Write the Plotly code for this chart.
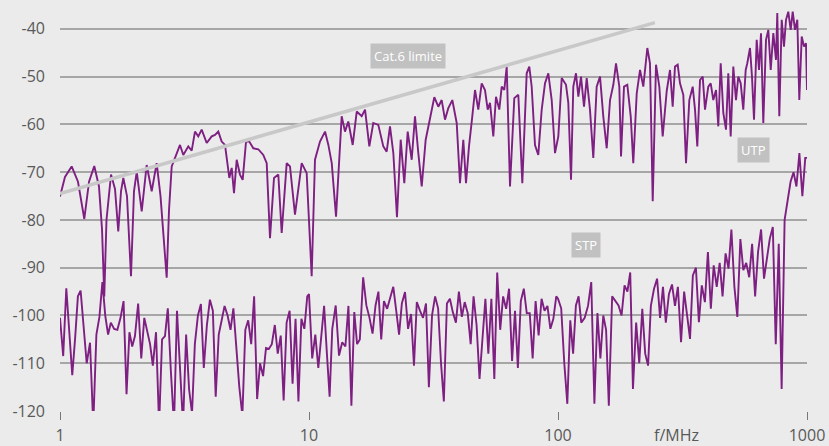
import numpy as np
import plotly.graph_objects as go

# ---- UTP series: (frequency MHz, level dB) ----
utp = [
    (1.000, -75.1), (1.047, -71.0), (1.114, -68.8), (1.181, -72.0), (1.252, -79.8), (1.308, -72.0),
    (1.373, -68.7), (1.434, -73.0), (1.475, -82.0), (1.506, -96.0), (1.537, -80.0), (1.603, -70.5),
    (1.663, -73.5), (1.714, -82.4), (1.758, -74.0), (1.796, -71.2), (1.858, -75.0), (1.928, -91.8),
    (1.982, -74.0), (2.033, -69.9), (2.129, -78.2), (2.229, -68.5), (2.335, -74.0), (2.445, -68.1),
    (2.533, -75.0), (2.599, -83.7), (2.682, -92.1), (2.740, -78.0), (2.809, -68.8), (2.923, -66.5),
    (3.033, -64.3), (3.127, -66.4), (3.275, -64.6), (3.380, -65.5), (3.484, -61.5), (3.592, -62.5),
    (3.707, -61.1), (3.883, -63.9), (4.067, -62.5), (4.193, -62.2), (4.322, -61.5), (4.460, -63.6),
    (4.599, -64.3), (4.786, -71.2), (4.893, -69.1), (4.998, -74.4), (5.124, -67.4), (5.283, -70.5),
    (5.416, -71.6), (5.585, -63.6), (5.758, -63.6), (5.975, -65.0), (6.257, -65.2), (6.553, -66.4),
    (6.763, -68.1), (6.972, -83.8), (7.235, -71.2), (7.529, -70.5), (7.768, -82.7), (8.136, -68.1),
    (8.388, -68.8), (8.785, -78.9), (9.347, -68.1), (9.789, -70.2), (10.09, -86.2), (10.25, -91.8),
    (10.57, -67.4), (11.07, -63.6), (11.60, -61.5), (11.96, -64.3), (12.34, -68.1), (12.84, -79.3),
    (13.53, -58.3), (13.95, -61.5), (14.38, -59.4), (14.98, -64.3), (15.55, -57.3), (16.28, -58.3),
    (16.79, -56.9), (17.47, -64.6), (18.12, -59.7), (18.98, -60.1), (19.88, -64.6), (20.51, -65.7),
    (21.15, -60.4), (21.81, -66.0), (22.56, -79.4), (23.35, -63.2), (24.14, -72.3), (24.91, -61.5),
    (25.85, -67.4), (26.65, -58.3), (27.48, -66.0), (28.36, -73.0), (29.42, -63.2), (30.62, -59.0),
    (31.86, -54.3), (33.06, -56.3), (34.11, -54.9), (35.17, -59.0), (36.26, -56.6), (37.63, -54.9),
    (39.19, -59.7), (40.40, -72.3), (41.66, -63.2), (42.71, -72.3), (43.91, -64.6), (45.27, -58.3),
    (46.42, -52.8), (47.86, -56.9), (49.38, -51.4), (50.91, -52.8), (52.20, -56.9), (53.33, -55.5),
    (54.98, -62.5), (56.36, -54.2), (58.11, -56.9), (59.42, -52.1), (60.86, -52.8), (62.23, -47.9),
    (64.16, -73.0), (66.76, -54.5), (69.28, -53.8), (71.89, -72.3), (74.87, -49.3), (76.68, -47.9),
    (78.40, -52.1), (80.83, -64.3), (83.34, -66.4), (86.01, -56.9), (88.68, -51.4), (91.43, -49.3),
    (94.34, -54.9), (97.26, -66.0), (100.3, -62.5), (103.5, -50.3), (107.7, -51.7), (110.0, -55.5),
    (112.8, -71.6), (115.2, -52.1), (118.1, -49.3), (120.7, -54.2), (123.7, -50.0), (127.2, -56.3),
    (130.4, -50.3), (134.4, -56.9), (138.6, -67.0), (143.0, -52.1), (147.5, -50.0), (152.0, -58.3),
    (156.9, -65.0), (161.8, -54.9), (166.8, -51.7), (171.0, -47.2), (176.3, -52.1), (179.1, -66.7),
    (184.1, -52.1), (189.8, -51.7), (195.9, -58.3), (200.6, -68.1), (207.1, -53.5), (213.5, -48.6),
    (220.1, -52.1), (228.4, -44.0), (234.1, -47.2), (240.1, -76.1), (247.5, -47.5), (255.2, -52.1),
    (263.3, -62.5), (273.3, -53.0), (281.7, -48.6), (288.8, -56.3), (295.0, -47.9), (302.5, -47.5),
    (309.0, -51.4), (318.6, -53.8), (326.7, -68.1), (336.8, -54.9), (347.5, -52.1), (355.0, -56.9),
    (362.6, -64.6), (371.8, -50.7), (381.2, -50.0), (389.4, -56.9), (401.4, -52.1), (410.5, -51.4),
    (420.4, -54.9), (431.1, -52.8), (440.3, -60.4), (450.2, -47.2), (461.2, -57.6), (472.8, -61.1),
    (483.0, -49.3), (493.8, -62.5), (505.9, -47.9), (518.6, -54.9), (529.8, -50.0), (541.7, -51.4),
    (554.8, -56.9), (567.3, -48.6), (575.7, -47.2), (590.3, -44.0), (601.3, -50.0), (612.6, -59.0),
    (628.0, -42.3), (641.6, -48.6), (653.5, -40.9), (667.6, -59.7), (684.5, -42.3), (699.3, -40.2),
    (715.0, -48.6), (732.3, -40.9), (750.7, -46.5), (759.8, -36.7), (774.0, -58.3), (791.4, -38.1),
    (808.3, -43.7), (823.5, -38.1), (841.2, -36.4), (860.1, -40.2), (876.1, -36.4), (894.9, -40.2),
    (914.3, -38.1), (931.3, -54.9), (952.2, -41.6), (972.6, -43.7), (990.8, -43.0), (1000.0, -52.8),
]
utp_freq = [p[0] for p in utp]
utp_db = [p[1] for p in utp]

# ---- STP series ----
stp_freq = [
    1.00, 1.03, 1.06, 1.09, 1.12, 1.15, 1.18, 1.21, 1.24, 1.28,
    1.32, 1.36, 1.40, 1.44, 1.48, 1.52, 1.56, 1.60, 1.65, 1.70,
    1.75, 1.80, 1.85, 1.90, 1.95, 2.00, 2.06, 2.12, 2.18, 2.24,
    2.30, 2.36, 2.43, 2.50, 2.57, 2.64, 2.71, 2.79, 2.87, 2.95,
    3.03, 3.12, 3.21, 3.30, 3.39, 3.48, 3.58, 3.68, 3.78, 3.89,
    4.00, 4.11, 4.22, 4.34, 4.46, 4.58, 4.71, 4.84, 4.97, 5.11,
    5.25, 5.40, 5.55, 5.70, 5.86, 6.02, 6.19, 6.36, 6.54, 6.72,
    6.90, 7.09, 7.29, 7.49, 7.70, 7.91, 8.13, 8.36, 8.59, 8.83,
    9.07, 9.32, 9.58, 9.84,
    10.0, 10.3, 10.6, 10.9, 11.2, 11.5, 11.8, 12.1, 12.4, 12.8,
    13.2, 13.6, 14.0, 14.4, 14.8, 15.2, 15.6, 16.0, 16.5, 17.0,
    17.5, 18.0, 18.5, 19.0, 19.5, 20.0, 20.6, 21.2, 21.8, 22.4,
    23.0, 23.6, 24.3, 25.0, 25.7, 26.4, 27.1, 27.9, 28.7, 29.5,
    30.3, 31.2, 32.1, 33.0, 33.9, 34.8, 35.8, 36.8, 37.8, 38.9,
    40.0, 41.1, 42.2, 43.4, 44.6, 45.8, 47.1, 48.4, 49.7, 51.1,
    52.5, 54.0, 55.5, 57.0, 58.6, 60.2, 61.9, 63.6, 65.4, 67.2,
    69.0, 70.9, 72.9, 74.9, 77.0, 79.1, 81.3, 83.6, 85.9, 88.3,
    90.7, 93.2, 95.8, 98.4,
    100, 103, 106, 109, 112, 115, 118, 121, 124, 128,
    132, 136, 140, 144, 148, 152, 156, 160, 165, 170,
    175, 180, 185, 190, 195, 200, 206, 212, 218, 224,
    230, 236, 243, 250, 257, 264, 271, 279, 287, 295,
    303, 312, 321, 330, 339, 348, 358, 368, 378, 389,
    400, 411, 422, 434, 446, 458, 471, 484, 497, 511,
    525, 540, 555, 570, 586, 602, 619, 636, 654, 672,
    690, 709, 729, 749, 770, 791, 813, 836, 859, 883,
    907, 932, 958, 984, 1000,
]
stp_db = [
    -100.5, -108.5, -94.3, -104.0, -112.5, -104.8, -96.0, -94.8, -102.3, -110.0,
    -105.7, -123.0, -104.0, -100.3, -93.0, -100.1, -104.0, -101.5, -102.8, -103.0,
    -100.5, -97.0, -116.5, -103.5, -106.5, -104.3, -97.5, -109.0, -100.5, -103.0,
    -106.0, -110.5, -103.5, -123.0, -105.0, -104.3, -98.5, -112.0, -123.0, -99.0,
    -109.9, -123.0, -104.0, -115.5, -120.5, -106.0, -100.0, -97.6, -111.0, -102.0,
    -96.7, -99.0, -117.0, -104.0, -101.0, -98.0, -100.0, -103.0, -98.5, -107.0,
    -115.0, -121.0, -103.0, -101.0, -106.0, -96.0, -117.5, -110.0, -112.7, -106.8,
    -107.0, -106.0, -102.0, -108.0, -104.2, -117.8, -101.5, -99.0, -114.3, -100.7,
    -118.0, -100.7, -102.8, -96.0,
    -95.5, -109.0, -104.0, -111.0, -103.5, -98.0, -108.0, -117.0, -102.8, -97.9,
    -108.4, -105.6, -106.5, -98.0, -118.9, -99.3, -106.0, -105.0, -92.0, -97.9,
    -100.5, -103.8, -97.9, -95.0, -105.0, -97.0, -98.6, -96.5, -94.0, -99.0,
    -104.0, -97.5, -95.1, -102.8, -99.7, -110.5, -97.2, -99.0, -100.5, -97.5,
    -115.0, -100.0, -96.0, -98.5, -110.0, -118.0, -97.5, -96.5, -99.3, -101.5,
    -95.0, -100.3, -97.2, -99.5, -106.0, -96.0, -102.0, -113.3, -104.0, -96.5,
    -108.0, -96.5, -113.3, -91.0, -103.0, -96.0, -98.6, -94.4, -109.5, -99.0,
    -111.0, -97.0, -94.4, -99.5, -99.5, -109.0, -97.0, -104.2, -96.5, -99.0,
    -98.0, -102.8, -100.7, -96.0,
    -96.5, -98.5, -110.0, -118.5, -101.0, -108.0, -97.9, -96.0, -101.5, -100.5,
    -98.0, -93.0, -118.5, -99.5, -109.0, -100.0, -103.0, -118.9, -96.0, -97.0,
    -97.9, -100.0, -93.7, -95.0, -91.0, -115.4, -101.5, -110.0, -98.6, -108.0,
    -110.5, -98.0, -94.4, -92.3, -100.5, -94.0, -101.5, -95.5, -93.5, -98.0,
    -94.0, -105.6, -95.0, -100.0, -104.9, -91.6, -90.0, -101.4, -93.7, -97.2,
    -86.7, -98.6, -89.5, -94.0, -89.0, -96.0, -87.0, -90.2, -82.0, -94.0,
    -100.3, -84.0, -90.5, -89.0, -92.0, -85.0, -96.0, -86.7, -82.0, -92.3,
    -88.0, -83.9, -81.5, -106.0, -85.0, -115.4, -80.0, -76.0, -72.0, -70.0,
    -73.0, -66.0, -75.0, -67.0, -67.0,
]

# ---- Cat.6 limit line ----
limit_freq = [1, 245]
limit_db = [-74.5, -38.7]

# ---- axis ticks ----
x_ticks = [1, 10, 100, 1000]
x_tick_text = ["1", "10", "100", "1000"]
y_ticks = [-120, -110, -100, -90, -80, -70, -60, -50, -40]
y_tick_text = [str(v) for v in y_ticks]

# ---- labels ----
labels = [("Cat.6 limite", 25, -45.6), ("UTP", 612, -65.3), ("STP", 130, -85.2)]

purple = "#7e1f82"
bg = "#ebebeb"

fig = go.Figure()
fig.add_trace(go.Scatter(x=utp_freq, y=utp_db, mode="lines",
                         line=dict(color=purple, width=1.9), name="UTP"))
fig.add_trace(go.Scatter(x=stp_freq, y=stp_db, mode="lines",
                         line=dict(color=purple, width=1.9), name="STP"))
fig.add_trace(go.Scatter(x=limit_freq, y=limit_db, mode="lines",
                         line=dict(color="#c8c8c8", width=3.5), name="Cat.6 limite"))

annotations = []
for text, fx, fy in labels:
    annotations.append(dict(
        x=np.log10(fx), y=fy, xref="x", yref="y", text=text, showarrow=False,
        bgcolor="#c1c1c1", borderpad=3,
        font=dict(family="Open Sans", size=13, color="#ffffff"),
    ))
annotations.append(dict(
    x=np.log10(300), y=0, xref="x", yref="paper", yanchor="top", yshift=-11,
    text="f/MHz", showarrow=False,
    font=dict(family="Open Sans", size=16, color="#595959"),
))

fig.update_layout(
    width=829, height=446,
    margin=dict(l=60, r=22, t=5, b=35, autoexpand=False),
    paper_bgcolor=bg, plot_bgcolor=bg,
    showlegend=False,
    font=dict(family="Open Sans", size=16, color="#595959"),
    annotations=annotations,
    xaxis=dict(
        type="log", range=[0, 3], tickvals=x_ticks, ticktext=x_tick_text,
        showgrid=False, zeroline=False, showline=False, automargin=False,
        ticks="outside", ticklen=8, tickwidth=1.2, tickcolor="#777777",
        ticklabelstandoff=2,
        tickfont=dict(size=16, color="#595959"),
    ),
    yaxis=dict(
        range=[-120, -35], tickvals=y_ticks, ticktext=y_tick_text,
        showgrid=True, gridcolor="#a6a6a6", gridwidth=1.6,
        zeroline=False, showline=False, ticks="", automargin=False,
        ticklabelstandoff=14,
        tickfont=dict(size=16, color="#595959"),
    ),
)

fig.write_html(
    "out.html",
    config={"displayModeBar": False},
    post_script="document.body.style.margin='0px';document.body.style.background='#ebebeb';",
)
